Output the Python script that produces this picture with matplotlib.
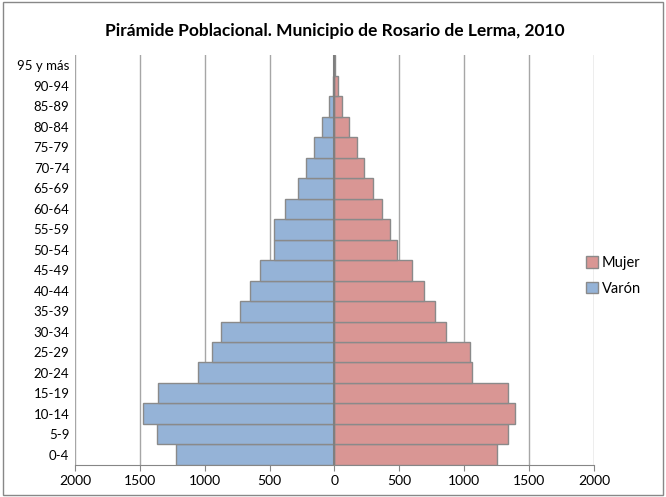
import matplotlib as mpl
import matplotlib.pyplot as plt
from matplotlib.patches import Patch, Rectangle

mpl.rcParams['font.family'] = ['Lato', 'DejaVu Sans']

#%% Data
grupos = ["0-4", "5-9", "10-14", "15-19", "20-24", "25-29", "30-34", "35-39",
          "40-44", "45-49", "50-54", "55-59", "60-64", "65-69", "70-74",
          "75-79", "80-84", "85-89", "90-94", "95 y más"]
varon = [1220, 1367, 1478, 1357, 1051, 943, 874, 732, 655, 576, 468, 468,
         378, 278, 218, 160, 98, 44, 12, 6]
mujer = [1249, 1338, 1388, 1338, 1061, 1048, 860, 771, 690, 599, 485, 426,
         367, 298, 229, 177, 110, 61, 28, 6]
ticks = [-2000, -1500, -1000, -500, 0, 500, 1000, 1500, 2000]

#%% Plot
fig = plt.figure(figsize=(6.66, 4.97), dpi=100)
ax = fig.add_axes([0.1126, 0.0644, 0.7793, 0.8249])

pos = range(len(grupos))
ax.barh(pos, mujer, height=1.0, color="#D99694", edgecolor="#8A8A8A",
        linewidth=1, label="Mujer", zorder=3)
ax.barh(pos, [-v for v in varon], height=1.0, color="#95B3D7", edgecolor="#8A8A8A",
        linewidth=1, label="Varón", zorder=3)
ax.axvline(0, color="#7F7F7F", linewidth=1.5, zorder=4)

ax.set_xlim(-2000, 2000)
ax.set_ylim(-0.5, len(grupos) - 0.5)
ax.set_xticks(ticks)
ax.set_xticklabels([str(abs(t)) for t in ticks], fontsize=10)
ax.set_yticks(list(pos))
ax.set_yticklabels(grupos, fontsize=9.5)
ax.tick_params(axis="y", length=0, pad=4)
ax.tick_params(axis="x", direction="out", length=4, color="#868686", pad=3)
ax.grid(axis="x", color="#A6A6A6", linewidth=1, zorder=0)

for side in ["top", "right", "left"]:
    ax.spines[side].set_visible(False)
ax.spines["bottom"].set_color("#868686")

ax.set_title("Pirámide Poblacional. Municipio de Rosario de Lerma, 2010",
             fontsize=12.5, fontweight="bold", pad=14)

handles = [Patch(facecolor="#D99694", edgecolor="#8A8A8A", label="Mujer"),
           Patch(facecolor="#95B3D7", edgecolor="#8A8A8A", label="Varón")]
fig.legend(handles=handles, loc="center left", bbox_to_anchor=(0.86, 0.445),
           frameon=False, fontsize=10.5, handlelength=0.8, handleheight=0.8,
           handletextpad=0.3, labelspacing=0.8)

# chart border
fig.patches.append(Rectangle((0.004, 0.004), 0.992, 0.992, transform=fig.transFigure,
                             fill=False, edgecolor="#888888", linewidth=1))

fig.savefig("out.png", dpi=100)
